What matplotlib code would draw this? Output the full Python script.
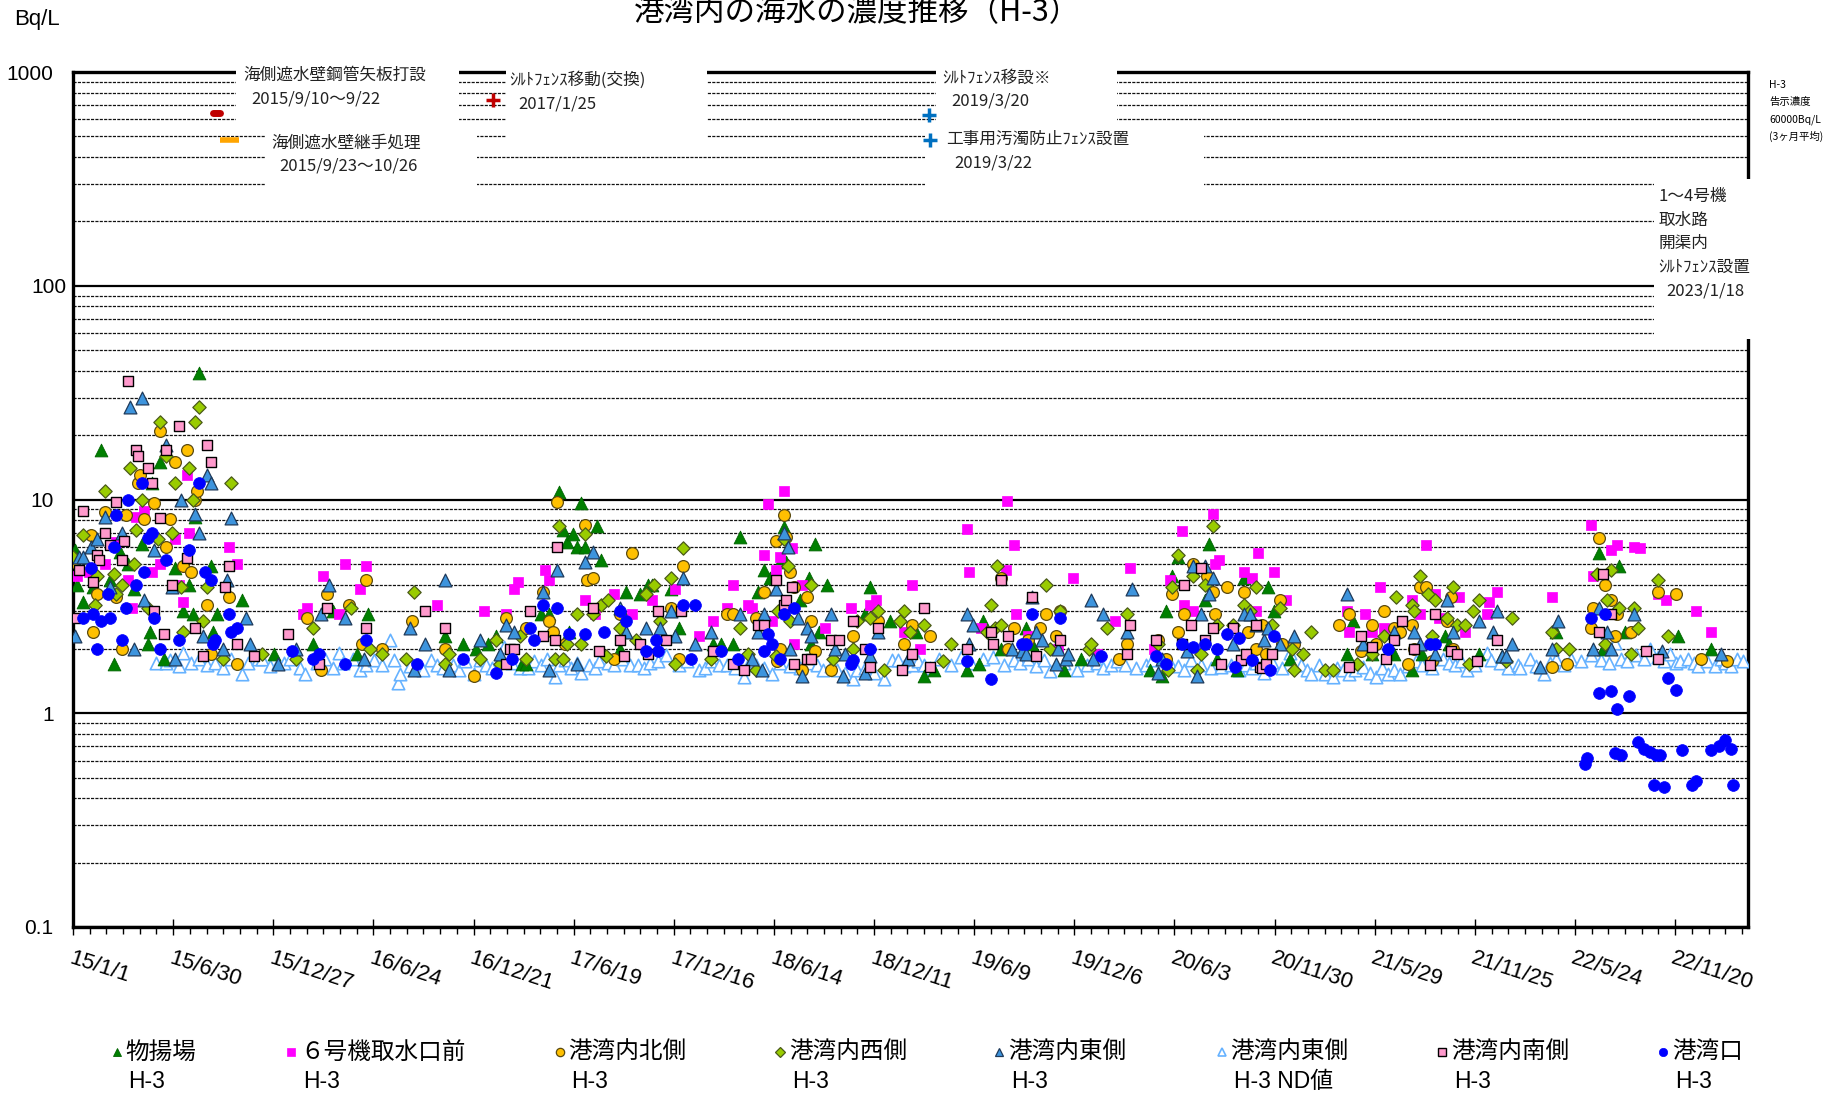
import numpy as np
import pandas as pd
import matplotlib
matplotlib.use("Agg")
from matplotlib import pyplot as plt
from matplotlib.lines import Line2D
from matplotlib.patches import Rectangle
from matplotlib.ticker import LogLocator, FixedLocator, NullFormatter
from matplotlib.transforms import ScaledTranslation
import matplotlib.dates as mdates

plt.rcParams['font.family'] = ['Liberation Sans', 'Noto Sans CJK JP', 'DejaVu Sans']

# values: (decimal year, Bq/L)
monoage = [(2015.01, 5.8), (2015.02, 4.0), (2015.05, 3.3), (2015.10, 3.9), (2015.14, 17), (2015.18, 4.2),
           (2015.20, 1.7), (2015.23, 5.7), (2015.27, 5.0), (2015.30, 3.8), (2015.34, 6.2), (2015.37, 2.1),
           (2015.38, 2.4), (2015.39, 12), (2015.43, 15), (2015.45, 1.8), (2015.50, 4.8), (2015.54, 3.0),
           (2015.57, 4.0), (2015.59, 2.9), (2015.60, 8.3), (2015.62, 39), (2015.68, 4.9), (2015.69, 2.4),
           (2015.71, 2.9), (2015.83, 3.4), (2015.99, 1.9), (2016.18, 2.1), (2016.28, 3.0), (2016.40, 1.9),
           (2016.45, 2.9), (2016.83, 2.3), (2016.92, 2.1), (2016.98, 2.0), (2017.04, 2.1), (2017.08, 2.3),
           (2017.21, 1.7), (2017.23, 1.7), (2017.30, 2.9), (2017.34, 2.9), (2017.39, 10.9), (2017.41, 7.2),
           (2017.43, 6.3), (2017.44, 2.4), (2017.46, 6.9), (2017.48, 6.0), (2017.50, 9.6), (2017.52, 6.0),
           (2017.58, 7.5), (2017.60, 5.2), (2017.69, 2.0), (2017.72, 3.7), (2017.79, 3.6), (2017.83, 4.0),
           (2017.85, 4.0), (2017.94, 3.8), (2017.98, 2.5), (2018.15, 2.1), (2018.19, 2.1), (2018.25, 2.1),
           (2018.28, 6.7), (2018.37, 3.7), (2018.40, 4.7), (2018.43, 4.3), (2018.49, 5.3), (2018.50, 7.4),
           (2018.51, 5.1), (2018.58, 3.4), (2018.62, 4.3), (2018.63, 2.1), (2018.65, 6.2), (2018.67, 2.4),
           (2018.71, 4.0), (2018.90, 2.9), (2018.92, 3.9), (2019.02, 2.7), (2019.15, 2.4), (2019.19, 1.5),
           (2019.24, 1.6), (2019.40, 1.6), (2019.46, 1.7), (2019.48, 2.7), (2019.57, 2.0), (2019.69, 2.5),
           (2019.72, 2.1), (2019.88, 1.6), (2019.96, 1.8), (2020.30, 1.6), (2020.36, 1.5), (2020.38, 3.0),
           (2020.41, 4.4), (2020.44, 5.4), (2020.57, 3.4), (2020.59, 6.2), (2020.63, 1.8), (2020.73, 1.6),
           (2020.76, 4.3), (2020.88, 3.9), (2020.91, 3.0), (2020.99, 1.8), (2021.27, 1.9), (2021.30, 2.7),
           (2021.39, 1.9), (2021.50, 1.9), (2021.59, 1.6), (2021.64, 1.9), (2021.75, 2.3), (2021.77, 2.1),
           (2021.92, 1.9), (2022.03, 1.85), (2022.30, 2.4), (2022.51, 5.6), (2022.53, 2.0), (2022.61, 4.9),
           (2022.64, 2.4), (2022.90, 2.3), (2023.06, 2.0)]

unit6 = [(2015.02, 4.4), (2015.08, 4.6), (2015.16, 5.0), (2015.21, 6.3), (2015.27, 4.2), (2015.29, 3.1),
         (2015.31, 8.3), (2015.35, 8.8), (2015.39, 4.6), (2015.43, 5.0), (2015.50, 6.5), (2015.52, 4.0),
         (2015.54, 3.3), (2015.56, 13), (2015.57, 7.0), (2015.77, 6.0), (2015.81, 5.0), (2016.13, 2.9),
         (2016.15, 3.1), (2016.23, 4.4), (2016.31, 2.9), (2016.34, 5.0), (2016.41, 3.8), (2016.44, 4.9),
         (2016.79, 3.2), (2017.02, 3.0), (2017.13, 2.9), (2017.17, 3.8), (2017.19, 4.1), (2017.32, 4.7),
         (2017.34, 4.2), (2017.52, 3.4), (2017.57, 2.9), (2017.66, 3.6), (2017.75, 2.9), (2017.85, 3.4),
         (2017.96, 3.8), (2018.08, 2.3), (2018.15, 2.7), (2018.22, 3.1), (2018.25, 4.0), (2018.32, 3.2),
         (2018.34, 3.1), (2018.40, 5.5), (2018.42, 9.5), (2018.44, 2.7), (2018.46, 4.7), (2018.48, 5.4),
         (2018.50, 11), (2018.54, 5.9), (2018.55, 2.1), (2018.59, 4.0), (2018.70, 2.5), (2018.83, 3.1),
         (2018.92, 3.2), (2018.95, 3.4), (2019.09, 2.4), (2019.13, 4.0), (2019.17, 2.0), (2019.40, 7.3),
         (2019.41, 4.6), (2019.47, 2.5), (2019.59, 4.7), (2019.595, 9.8), (2019.63, 6.1), (2019.64, 2.9),
         (2019.70, 2.3), (2019.85, 2.0), (2019.92, 4.3), (2020.04, 1.9), (2020.13, 2.7), (2020.20, 4.8),
         (2020.32, 2.0), (2020.40, 4.2), (2020.46, 7.1), (2020.47, 3.2), (2020.51, 3.0), (2020.61, 8.6),
         (2020.62, 5.0), (2020.64, 5.2), (2020.76, 4.6), (2020.80, 4.3), (2020.82, 3.0), (2020.83, 5.6),
         (2020.91, 4.6), (2020.97, 3.4), (2021.27, 3.0), (2021.28, 2.4), (2021.36, 2.9), (2021.39, 2.4),
         (2021.43, 3.9), (2021.45, 2.5), (2021.59, 3.4), (2021.63, 2.9), (2021.66, 6.1), (2021.70, 3.6),
         (2021.72, 2.8), (2021.82, 3.5), (2021.85, 2.4), (2021.96, 2.9), (2021.97, 3.3), (2022.01, 3.7),
         (2022.28, 3.5), (2022.47, 7.6), (2022.48, 4.4), (2022.57, 5.8), (2022.60, 6.1), (2022.68, 6.0),
         (2022.71, 5.9), (2022.80, 3.6), (2022.84, 3.4), (2022.99, 3.0), (2023.06, 2.4)]

north = [(2015.00, 5.1), (2015.09, 6.8), (2015.10, 2.4), (2015.12, 3.6), (2015.16, 8.7), (2015.21, 3.5),
         (2015.24, 2.0), (2015.26, 8.5), (2015.32, 12), (2015.33, 13), (2015.35, 8.1), (2015.40, 9.6),
         (2015.43, 21), (2015.46, 6.0), (2015.48, 8.1), (2015.50, 15), (2015.54, 4.9), (2015.56, 17),
         (2015.58, 4.6), (2015.60, 10), (2015.61, 11), (2015.66, 3.2), (2015.68, 1.9), (2015.77, 3.5),
         (2015.81, 1.7), (2016.15, 2.8), (2016.22, 1.6), (2016.25, 3.6), (2016.36, 3.2), (2016.42, 2.1),
         (2016.44, 4.2), (2016.52, 2.0), (2016.67, 2.7), (2016.83, 2.0), (2016.97, 1.5), (2017.13, 2.8),
         (2017.23, 2.5), (2017.31, 3.7), (2017.34, 2.7), (2017.36, 2.4), (2017.38, 9.7), (2017.42, 2.1),
         (2017.52, 7.6), (2017.53, 4.2), (2017.56, 4.3), (2017.66, 1.8), (2017.69, 2.9), (2017.75, 5.6),
         (2017.94, 3.1), (2017.98, 1.8), (2018.00, 4.9), (2018.22, 2.9), (2018.25, 2.9), (2018.36, 2.8),
         (2018.40, 3.7), (2018.46, 6.4), (2018.465, 1.75), (2018.48, 2.0), (2018.50, 8.5), (2018.51, 6.7),
         (2018.53, 4.6), (2018.55, 3.9), (2018.59, 1.6), (2018.61, 3.5), (2018.63, 2.7), (2018.65, 1.95),
         (2018.73, 1.6), (2018.84, 2.3), (2018.96, 2.7), (2019.09, 2.1), (2019.13, 2.6), (2019.22, 2.3),
         (2019.57, 4.3), (2019.60, 2.0), (2019.63, 2.5), (2019.70, 2.2), (2019.76, 2.5), (2019.79, 2.9),
         (2019.84, 2.3), (2019.86, 3.0), (2020.15, 1.8), (2020.19, 2.1), (2020.34, 2.2), (2020.38, 1.8),
         (2020.41, 3.6), (2020.44, 2.4), (2020.47, 2.9), (2020.51, 5.0), (2020.58, 4.4), (2020.61, 3.7),
         (2020.62, 2.9), (2020.68, 3.9), (2020.76, 3.7), (2020.78, 2.4), (2020.82, 2.0), (2020.85, 2.6),
         (2020.87, 1.9), (2020.94, 3.4), (2020.95, 2.1), (2021.01, 2.1), (2021.23, 2.6), (2021.28, 2.9),
         (2021.34, 1.95), (2021.39, 2.6), (2021.41, 2.1), (2021.45, 3.0), (2021.50, 2.5), (2021.53, 2.4),
         (2021.57, 1.7), (2021.59, 2.6), (2021.60, 2.0), (2021.63, 3.9), (2021.66, 3.9), (2021.69, 1.75),
         (2021.76, 2.7), (2021.78, 3.5), (2021.79, 2.0), (2022.28, 1.65), (2022.35, 1.7), (2022.47, 2.5),
         (2022.48, 3.1), (2022.51, 6.6), (2022.54, 4.0), (2022.57, 3.4), (2022.59, 2.3), (2022.60, 2.9),
         (2022.67, 2.4), (2022.80, 3.7), (2022.89, 3.6), (2023.01, 1.8), (2023.14, 1.75)]

west = [(2015.00, 5.4), (2015.05, 6.8), (2015.11, 3.2), (2015.12, 4.4), (2015.16, 11), (2015.20, 4.5),
        (2015.21, 3.6), (2015.24, 4.0), (2015.28, 14), (2015.30, 5.0), (2015.31, 7.2), (2015.34, 10),
        (2015.37, 3.1), (2015.42, 6.5), (2015.43, 23), (2015.46, 16), (2015.49, 7.0), (2015.50, 12),
        (2015.53, 3.9), (2015.54, 2.4), (2015.57, 14), (2015.59, 10), (2015.60, 23), (2015.62, 27),
        (2015.64, 2.7), (2015.66, 3.9), (2015.74, 1.8), (2015.78, 12), (2015.93, 1.9), (2016.10, 1.8),
        (2016.18, 2.5), (2016.37, 3.1), (2016.46, 2.0), (2016.52, 1.9), (2016.64, 1.8), (2016.68, 3.7),
        (2016.83, 1.7), (2016.85, 1.9), (2017.00, 1.8), (2017.08, 2.2), (2017.10, 1.7), (2017.20, 2.3),
        (2017.23, 1.8), (2017.37, 1.8), (2017.39, 7.5), (2017.41, 1.8), (2017.43, 2.1), (2017.48, 2.9),
        (2017.50, 2.1), (2017.52, 6.9), (2017.56, 2.9), (2017.60, 3.2), (2017.62, 1.85), (2017.63, 3.4),
        (2017.69, 2.5), (2017.77, 2.2), (2017.82, 3.6), (2017.86, 4.0), (2017.89, 2.7), (2017.94, 4.3),
        (2017.96, 1.7), (2018.00, 5.9), (2018.14, 1.8), (2018.28, 2.5), (2018.32, 1.9), (2018.36, 1.6),
        (2018.46, 1.85), (2018.47, 3.0), (2018.50, 6.5), (2018.52, 4.9), (2018.53, 2.7), (2018.63, 4.0),
        (2018.74, 1.8), (2018.84, 2.0), (2018.86, 2.7), (2018.92, 2.8), (2018.96, 3.0), (2018.99, 1.6),
        (2019.07, 2.7), (2019.09, 3.0), (2019.12, 2.4), (2019.19, 2.6), (2019.28, 1.75), (2019.32, 2.1),
        (2019.50, 2.4), (2019.52, 3.2), (2019.54, 2.5), (2019.55, 4.9), (2019.57, 2.6), (2019.79, 4.0),
        (2019.81, 2.0), (2019.86, 3.0), (2020.00, 2.0), (2020.01, 2.1), (2020.09, 2.5), (2020.19, 2.9),
        (2020.34, 2.1), (2020.39, 1.6), (2020.41, 3.9), (2020.44, 5.5), (2020.51, 4.4), (2020.53, 1.6),
        (2020.55, 1.9), (2020.57, 4.0), (2020.61, 7.5), (2020.63, 2.6), (2020.71, 2.6), (2020.76, 3.2),
        (2020.79, 3.0), (2020.82, 3.9), (2020.90, 2.6), (2020.94, 3.1), (2021.00, 2.0), (2021.01, 1.6),
        (2021.05, 1.9), (2021.09, 2.4), (2021.16, 1.6), (2021.20, 1.6), (2021.32, 1.7), (2021.39, 1.9),
        (2021.45, 2.3), (2021.51, 3.5), (2021.59, 3.2), (2021.60, 3.0), (2021.63, 4.4), (2021.67, 3.6),
        (2021.69, 2.3), (2021.70, 3.4), (2021.76, 2.8), (2021.79, 3.9), (2021.81, 2.6), (2021.85, 2.6),
        (2021.87, 1.7), (2021.89, 3.0), (2021.92, 3.4), (2022.05, 1.75), (2022.08, 2.8), (2022.28, 2.4),
        (2022.30, 2.0), (2022.36, 2.0), (2022.50, 4.5), (2022.54, 2.1), (2022.55, 3.4), (2022.57, 4.7),
        (2022.61, 3.1), (2022.67, 1.9), (2022.68, 3.1), (2022.70, 2.5), (2022.80, 4.2), (2022.85, 2.3)]

east = [(2015.01, 2.3), (2015.03, 5.4), (2015.05, 5.4), (2015.09, 6.0), (2015.12, 6.5), (2015.16, 8.3),
        (2015.18, 3.9), (2015.24, 7.0), (2015.28, 27), (2015.30, 2.0), (2015.34, 30), (2015.35, 3.4),
        (2015.40, 5.8), (2015.46, 18), (2015.49, 3.9), (2015.50, 1.8), (2015.53, 10), (2015.60, 8.6),
        (2015.62, 7.0), (2015.64, 2.3), (2015.66, 13), (2015.68, 12), (2015.74, 2.0), (2015.76, 4.2),
        (2015.78, 8.2), (2015.85, 2.8), (2015.87, 2.1), (2016.01, 1.7), (2016.10, 2.0), (2016.22, 2.9),
        (2016.26, 4.0), (2016.34, 2.8), (2016.43, 1.8), (2016.66, 2.5), (2016.68, 1.6), (2016.73, 2.1),
        (2016.83, 4.2), (2016.85, 1.6), (2017.00, 2.2), (2017.10, 1.9), (2017.13, 2.6), (2017.17, 2.4),
        (2017.31, 3.7), (2017.34, 1.6), (2017.38, 4.7), (2017.48, 1.7), (2017.52, 5.1), (2017.56, 5.7),
        (2017.69, 3.1), (2017.72, 2.4), (2017.82, 2.5), (2017.89, 2.5), (2017.94, 3.0), (2017.96, 2.3),
        (2018.00, 4.3), (2018.06, 2.1), (2018.14, 2.4), (2018.28, 2.9), (2018.34, 1.8), (2018.37, 2.4),
        (2018.39, 1.6), (2018.40, 2.9), (2018.46, 3.8), (2018.50, 7.0), (2018.52, 6.0), (2018.53, 2.0),
        (2018.57, 2.8), (2018.59, 1.5), (2018.61, 2.5), (2018.63, 2.3), (2018.73, 2.9), (2018.75, 2.0),
        (2018.79, 1.5), (2018.80, 1.9), (2018.90, 1.55), (2018.92, 1.85), (2018.96, 2.4), (2019.11, 1.8),
        (2019.40, 2.9), (2019.41, 2.1), (2019.43, 2.6), (2019.62, 2.0), (2019.67, 1.95), (2019.69, 1.9),
        (2019.72, 3.5), (2019.74, 2.4), (2019.77, 2.2), (2019.84, 1.7), (2019.85, 2.0), (2019.89, 1.8),
        (2019.90, 1.9), (2020.01, 3.4), (2020.02, 1.8), (2020.07, 2.9), (2020.19, 2.4), (2020.21, 3.8),
        (2020.34, 1.55), (2020.36, 1.8), (2020.48, 1.95), (2020.51, 4.9), (2020.53, 1.5), (2020.55, 2.9),
        (2020.57, 4.9), (2020.59, 3.6), (2020.61, 4.3), (2020.71, 2.1), (2020.76, 2.9), (2020.79, 2.9),
        (2020.82, 2.6), (2020.86, 2.2), (2020.88, 2.5), (2020.94, 2.1), (2021.01, 2.3), (2021.27, 3.6),
        (2021.35, 2.1), (2021.50, 2.4), (2021.60, 2.4), (2021.63, 2.1), (2021.70, 1.9), (2021.76, 3.4),
        (2021.79, 2.4), (2021.92, 2.7), (2021.99, 2.4), (2022.01, 3.0), (2022.03, 1.85), (2022.05, 1.85),
        (2022.08, 2.1), (2022.22, 1.65), (2022.28, 2.0), (2022.31, 2.7), (2022.48, 2.0), (2022.51, 3.1),
        (2022.55, 2.4), (2022.57, 2.0), (2022.68, 2.9), (2022.82, 1.95), (2023.11, 1.9)]

east_nd = [(2015.41, 1.71), (2015.46, 1.71), (2015.48, 1.78), (2015.52, 1.66), (2015.54, 1.92), (2015.58, 1.71),
           (2015.62, 1.8), (2015.66, 1.69), (2015.70, 1.71), (2015.74, 1.62), (2015.78, 1.8), (2015.83, 1.53),
           (2015.86, 1.71), (2015.91, 1.8), (2015.93, 1.8), (2015.97, 1.66), (2016.01, 1.71), (2016.04, 1.71),
           (2016.07, 1.8), (2016.12, 1.62), (2016.14, 1.53), (2016.20, 1.71), (2016.24, 1.8), (2016.28, 1.62),
           (2016.31, 1.92), (2016.33, 1.71), (2016.38, 1.8), (2016.41, 1.59), (2016.44, 1.69), (2016.48, 1.78),
           (2016.52, 1.69), (2016.56, 2.2), (2016.58, 1.78), (2016.60, 1.38), (2016.61, 1.52), (2016.66, 1.66),
           (2016.72, 1.59), (2016.76, 1.78), (2016.79, 1.69), (2016.82, 1.62), (2016.87, 1.69), (2016.90, 1.59),
           (2016.93, 1.76), (2016.97, 1.52), (2017.00, 1.78), (2017.03, 1.69), (2017.06, 1.62), (2017.10, 1.8),
           (2017.12, 2.05), (2017.16, 1.71), (2017.20, 1.62), (2017.24, 1.62), (2017.27, 1.76), (2017.30, 1.69),
           (2017.33, 1.8), (2017.37, 1.47), (2017.39, 1.69), (2017.42, 1.78), (2017.45, 1.62), (2017.48, 1.71),
           (2017.50, 1.55), (2017.54, 1.69), (2017.57, 1.62), (2017.59, 1.76), (2017.63, 1.71), (2017.66, 1.69),
           (2017.70, 1.8), (2017.74, 1.69), (2017.78, 1.69), (2017.81, 1.62), (2017.84, 1.71), (2017.88, 1.76),
           (2017.92, 1.87), (2017.98, 1.69), (2018.02, 1.76), (2018.08, 1.59), (2018.11, 1.62), (2018.14, 1.76),
           (2018.18, 1.69), (2018.22, 1.69), (2018.26, 1.62), (2018.30, 1.47), (2018.33, 1.76), (2018.36, 1.69),
           (2018.40, 1.62), (2018.44, 1.53), (2018.48, 1.71), (2018.53, 1.66), (2018.58, 1.62), (2018.62, 1.71),
           (2018.66, 1.69), (2018.69, 1.59), (2018.73, 1.66), (2018.76, 1.59), (2018.80, 1.55), (2018.84, 1.45),
           (2018.86, 1.59), (2018.90, 1.62), (2018.94, 1.55), (2018.99, 1.45), (2019.03, 1.78), (2019.06, 1.78),
           (2019.09, 1.66), (2019.13, 1.69), (2019.16, 1.76), (2019.19, 1.69), (2019.22, 1.62), (2019.26, 1.8),
           (2019.32, 1.69), (2019.37, 1.83), (2019.42, 1.71), (2019.48, 1.8), (2019.53, 1.83), (2019.58, 1.69),
           (2019.63, 1.78), (2019.66, 1.71), (2019.70, 1.8), (2019.74, 1.66), (2019.78, 1.78), (2019.81, 1.57),
           (2019.88, 1.71), (2019.94, 1.59), (2019.99, 1.69), (2020.04, 1.71), (2020.07, 1.62), (2020.11, 1.69),
           (2020.14, 1.76), (2020.18, 1.69), (2020.23, 1.62), (2020.28, 1.69), (2020.31, 1.78), (2020.36, 1.62),
           (2020.40, 1.71), (2020.44, 1.66), (2020.47, 1.59), (2020.50, 1.78), (2020.55, 1.69), (2020.60, 1.62),
           (2020.65, 1.64), (2020.70, 1.69), (2020.74, 1.59), (2020.77, 1.69), (2020.80, 1.62), (2020.82, 1.71),
           (2020.86, 1.55), (2020.90, 1.73), (2020.95, 1.62), (2020.99, 1.92), (2021.04, 1.69), (2021.07, 1.59),
           (2021.09, 1.53), (2021.13, 1.69), (2021.16, 1.53), (2021.20, 1.48), (2021.22, 1.62), (2021.25, 1.59),
           (2021.28, 1.52), (2021.31, 1.59), (2021.35, 1.64), (2021.38, 1.55), (2021.41, 1.47), (2021.44, 1.62),
           (2021.47, 1.52), (2021.50, 1.59), (2021.53, 1.53), (2021.57, 1.66), (2021.61, 1.76), (2021.64, 1.69),
           (2021.69, 1.62), (2021.74, 1.8), (2021.77, 1.71), (2021.80, 1.69), (2021.83, 1.76), (2021.86, 1.59),
           (2021.90, 1.69), (2021.96, 1.92), (2021.98, 1.78), (2022.02, 1.71), (2022.06, 1.62), (2022.11, 1.69),
           (2022.12, 1.62), (2022.17, 1.8), (2022.20, 1.66), (2022.24, 1.52), (2022.27, 1.71), (2022.30, 1.8),
           (2022.34, 1.69), (2022.37, 1.8), (2022.42, 1.76), (2022.47, 1.87), (2022.52, 1.78), (2022.56, 1.71),
           (2022.59, 2.12), (2022.62, 1.8), (2022.65, 1.76), (2022.69, 1.87), (2022.73, 1.8), (2022.76, 2.0),
           (2022.80, 1.83), (2022.83, 1.76), (2022.86, 1.9), (2022.89, 1.71), (2022.91, 1.76), (2022.95, 1.8),
           (2022.98, 1.71), (2023.00, 1.67), (2023.04, 1.76), (2023.08, 1.66), (2023.11, 1.8), (2023.13, 1.71),
           (2023.16, 1.66), (2023.19, 1.8), (2023.22, 1.76)]

south = [(2015.01, 2.8), (2015.03, 4.7), (2015.05, 8.8), (2015.10, 4.1), (2015.12, 5.5), (2015.13, 5.2),
         (2015.16, 7.0), (2015.18, 6.1), (2015.21, 9.7), (2015.24, 5.2), (2015.25, 6.4), (2015.27, 36),
         (2015.31, 17), (2015.32, 16), (2015.37, 14), (2015.39, 12), (2015.40, 3.0), (2015.43, 8.2),
         (2015.45, 2.35), (2015.46, 17), (2015.49, 4.0), (2015.52, 22), (2015.56, 5.3), (2015.60, 2.5),
         (2015.64, 1.85), (2015.66, 18), (2015.68, 15), (2015.75, 3.9), (2015.77, 4.9), (2015.81, 2.1),
         (2015.89, 1.85), (2016.06, 2.35), (2016.21, 1.7), (2016.25, 3.1), (2016.44, 2.5), (2016.73, 3.0),
         (2016.83, 2.5), (2017.13, 1.7), (2017.15, 2.0), (2017.17, 2.0), (2017.25, 3.0), (2017.31, 2.3),
         (2017.37, 2.2), (2017.38, 6.0), (2017.56, 3.1), (2017.59, 1.95), (2017.69, 2.2), (2017.71, 1.85),
         (2017.79, 2.1), (2017.83, 1.9), (2017.88, 3.0), (2017.92, 2.2), (2017.99, 3.0), (2018.15, 1.95),
         (2018.25, 1.7), (2018.30, 1.6), (2018.37, 2.6), (2018.40, 2.6), (2018.46, 4.2), (2018.50, 3.2),
         (2018.51, 3.4), (2018.54, 3.9), (2018.55, 1.7), (2018.61, 1.8), (2018.63, 1.8), (2018.73, 2.2),
         (2018.77, 2.2), (2018.84, 2.7), (2018.90, 2.0), (2018.92, 1.65), (2018.96, 2.5), (2019.08, 1.6),
         (2019.13, 1.9), (2019.19, 3.1), (2019.22, 1.65), (2019.40, 2.0), (2019.52, 2.4), (2019.53, 2.1),
         (2019.57, 4.2), (2019.60, 2.3), (2019.72, 3.5), (2019.74, 1.85), (2019.86, 2.2), (2020.19, 1.9),
         (2020.20, 2.6), (2020.33, 2.2), (2020.46, 2.1), (2020.47, 4.0), (2020.50, 2.6), (2020.55, 4.8),
         (2020.57, 2.2), (2020.61, 2.5), (2020.65, 1.7), (2020.71, 2.5), (2020.75, 1.78), (2020.77, 1.9),
         (2020.82, 2.6), (2020.84, 1.65), (2020.85, 1.62), (2020.87, 1.7), (2020.90, 1.9), (2021.28, 1.65),
         (2021.34, 2.3), (2021.39, 2.05), (2021.46, 1.8), (2021.50, 2.2), (2021.54, 2.7), (2021.60, 2.0),
         (2021.68, 1.68), (2021.70, 2.9), (2021.78, 1.95), (2021.81, 1.9), (2021.91, 1.76), (2022.01, 2.2),
         (2022.51, 2.4), (2022.53, 4.5), (2022.57, 2.9), (2022.74, 1.95), (2022.80, 1.8)]

mouth = [(2015.05, 2.8), (2015.09, 4.8), (2015.10, 2.9), (2015.12, 2.0), (2015.14, 2.7), (2015.17, 3.6),
         (2015.18, 2.8), (2015.20, 6.0), (2015.21, 8.5), (2015.24, 2.2), (2015.26, 3.1), (2015.27, 10),
         (2015.31, 4.0), (2015.34, 12), (2015.35, 4.6), (2015.37, 6.6), (2015.39, 7.0), (2015.40, 2.8),
         (2015.43, 2.0), (2015.46, 5.2), (2015.52, 2.2), (2015.57, 5.8), (2015.62, 12), (2015.65, 4.6),
         (2015.68, 4.2), (2015.69, 2.1), (2015.70, 2.2), (2015.77, 2.9), (2015.78, 2.4), (2015.81, 2.5),
         (2016.08, 1.95), (2016.18, 1.8), (2016.21, 1.9), (2016.34, 1.7), (2016.44, 2.2), (2016.69, 1.7),
         (2016.92, 1.8), (2017.08, 1.55), (2017.16, 1.8), (2017.25, 2.5), (2017.27, 2.2), (2017.31, 3.2),
         (2017.38, 3.1), (2017.44, 2.35), (2017.52, 2.35), (2017.61, 2.4), (2017.69, 3.0), (2017.72, 2.7),
         (2017.82, 1.95), (2017.87, 2.2), (2017.88, 1.95), (2018.00, 3.2), (2018.04, 1.8), (2018.06, 3.2),
         (2018.19, 1.95), (2018.27, 1.8), (2018.40, 1.95), (2018.42, 2.35), (2018.44, 2.1), (2018.48, 1.8),
         (2018.50, 2.9), (2018.55, 3.1), (2018.83, 1.7), (2018.84, 1.78), (2018.92, 2.0), (2019.40, 1.75),
         (2019.52, 1.45), (2019.67, 2.1), (2019.69, 2.1), (2019.72, 2.9), (2019.86, 2.8), (2020.06, 1.85),
         (2020.33, 1.85), (2020.38, 1.7), (2020.46, 2.1), (2020.51, 2.05), (2020.57, 2.1), (2020.63, 2.0),
         (2020.68, 2.35), (2020.72, 1.65), (2020.74, 2.25), (2020.80, 1.78), (2020.89, 1.6), (2020.91, 2.3),
         (2021.47, 2.0), (2021.68, 2.1), (2021.70, 2.1), (2022.44, 0.58), (2022.45, 0.62), (2022.47, 2.8),
         (2022.51, 1.25), (2022.54, 2.9), (2022.57, 1.27), (2022.59, 0.65), (2022.60, 1.05), (2022.62, 0.64),
         (2022.66, 1.2), (2022.70, 0.73), (2022.73, 0.68), (2022.76, 0.66), (2022.78, 0.46), (2022.79, 0.64),
         (2022.81, 0.64), (2022.83, 0.45), (2022.85, 1.46), (2022.89, 1.28), (2022.92, 0.67), (2022.97, 0.46),
         (2022.99, 0.48), (2023.06, 0.67), (2023.10, 0.70), (2023.13, 0.75), (2023.16, 0.68), (2023.17, 0.46)]

# construction events
sheet_pile = ('2015-09-10', '2015-09-22', 640)
joint_work = ('2015-09-23', '2015-10-26', 480)
fence_move = ('2017-01-25', 740)
fence_relocate = ('2019-03-20', 630)
turbidity_fence = ('2019-03-22', 480)

xtick_dates = pd.date_range('2015-01-01', periods=17, freq='180D')
xminor_dates = pd.date_range('2015-01-01', '2023-03-31', freq='30D')
ytick_vals = [0.1, 1, 10, 100, 1000]
ytick_labels = ['0.1', '1', '10', '100', '1000']

legend_names = ['物揚場', '６号機取水口前', '港湾内北側', '港湾内西側',
                '港湾内東側', '港湾内東側', '港湾内南側', '港湾口']
legend_sub = ['H-3', 'H-3', 'H-3', 'H-3', 'H-3', 'H-3 ND値', 'H-3', 'H-3']


def to_dates(pairs):
    out = []
    for t, _ in pairs:
        y = int(np.floor(t))
        start = pd.Timestamp(year=y, month=1, day=1)
        ndays = (pd.Timestamp(year=y + 1, month=1, day=1) - start).days
        out.append(start + pd.Timedelta(days=(t - y) * ndays))
    return out


def vals(pairs):
    return [v for _, v in pairs]


W, H = 1847, 1094
fig = plt.figure(figsize=(W / 100, H / 100), dpi=100)
ax = fig.add_axes([73 / W, 1 - 927 / H, (1748 - 73) / W, (927 - 72) / H])

# (data, marker, size, face, edge, lw)
styles = [
    (east_nd, '^', 80, 'white', '#66B2FF', 1.2),
    (monoage, '^', 85, '#008000', '#006400', 0.6),
    (unit6, 's', 52, '#FF00FF', '#FF00FF', 0.5),
    (north, 'o', 72, '#FFC000', '#5A4A10', 0.9),
    (west, 'D', 46, '#99CC00', '#4A5A1A', 0.9),
    (east, '^', 85, '#3D94DD', '#1F3A5A', 0.9),
    (south, 's', 52, '#FF99CC', '#000000', 1.0),
    (mouth, 'o', 72, '#0000FF', '#0000FF', 0.5),
]
for data, mk, s, fc, ec, lw in styles:
    ax.scatter(to_dates(data), vals(data), marker=mk, s=s, c=fc, edgecolors=ec,
               linewidths=lw, zorder=3)

ax.set_yscale('log')
ax.set_ylim(0.1, 1000)
ax.set_xlim(pd.Timestamp('2015-01-01'), pd.Timestamp('2023-03-31'))

ax.set_yticks(ytick_vals)
ax.set_yticklabels(ytick_labels, fontsize=15)
ax.yaxis.set_minor_locator(LogLocator(base=10, subs=range(2, 10)))
ax.yaxis.set_minor_formatter(NullFormatter())
ax.tick_params(axis='y', which='both', length=0, pad=14)
# the "100" label sits a little further right in the original
ylab = ax.get_yticklabels()[3]
ylab.set_transform(ylab.get_transform() + ScaledTranslation(13 / 100, 0, fig.dpi_scale_trans))

ax.set_xticks(list(xtick_dates))
ax.set_xticklabels([f"{d.year % 100}/{d.month}/{d.day}" for d in xtick_dates],
                   fontsize=16, rotation=-18, ha='left', rotation_mode='anchor')
ax.xaxis.set_minor_locator(FixedLocator(mdates.date2num(list(xminor_dates))))
ax.tick_params(axis='x', which='major', direction='inout', length=12, width=1, pad=9)
ax.tick_params(axis='x', which='minor', direction='out', length=5, width=1)

ax.grid(True, which='major', axis='y', color='black', lw=1.6)
ax.grid(True, which='minor', axis='y', color='#111111', lw=0.9, ls=(0, (2.5, 1.0)))
for sp in ax.spines.values():
    sp.set_linewidth(2.4)
    sp.set_color('black')


def apos(x, y):
    # position measured on the 1568px-wide view -> axes fraction
    return (x - 62) / 1422, (787 - y) / 726


# white boxes behind the annotations
for x0, y0, x1, y1 in [(200, 54, 390, 106), (225, 106, 405, 162), (430, 54, 600, 126),
                       (795, 54, 948, 107), (785, 107, 1022, 162), (1404, 152, 1493, 288)]:
    a0, b1 = apos(x0, y0)
    a1, b0 = apos(x1, y1)
    ax.add_patch(Rectangle((a0, b0), a1 - a0, b1 - b0, transform=ax.transAxes,
                           facecolor='white', edgecolor='none', clip_on=False, zorder=2.6))

ax.plot([pd.Timestamp(sheet_pile[0]), pd.Timestamp(sheet_pile[1])], [sheet_pile[2]] * 2,
        color='#C00000', lw=5, solid_capstyle='round', zorder=5)
ax.plot([pd.Timestamp(joint_work[0]), pd.Timestamp(joint_work[1])], [joint_work[2]] * 2,
        color='#FFA500', lw=4, solid_capstyle='butt', zorder=5)
ax.plot([pd.Timestamp(fence_move[0])], [fence_move[1]], '+', color='#C00000',
        ms=10, mew=2.5, zorder=5)
for ev in (fence_relocate, turbidity_fence):
    ax.plot([pd.Timestamp(ev[0])], [ev[1]], '+', color='#0070C0', ms=10, mew=2.5, zorder=5)

notes = [
    (207, 64, '海側遮水壁鋼管矢板打設'), (213, 84, '2015/9/10～9/22'),
    (230, 121, '海側遮水壁継手処理'), (237, 141, '2015/9/23～10/26'),
    (432, 68, 'ｼﾙﾄﾌｪﾝｽ移動(交換)'), (440, 88, '2017/1/25'),
    (800, 66, 'ｼﾙﾄﾌｪﾝｽ移設※'), (808, 86, '2019/3/20'),
    (803, 118, '工事用汚濁防止ﾌｪﾝｽ設置'), (810, 138, '2019/3/22'),
    (1408, 167, '1～4号機'), (1408, 187, '取水路'), (1408, 207, '開渠内'),
    (1408, 227, 'ｼﾙﾄﾌｪﾝｽ設置'), (1415, 247, '2023/1/18'),
]
for x, y, s in notes:
    a, b = apos(x, y)
    ax.text(a, b, s, transform=ax.transAxes, fontsize=12, va='center', ha='left',
            family=['Noto Sans CJK JP', 'DejaVu Sans'], color='#222222', zorder=6, clip_on=False)

for i, s in enumerate(['H-3', '告示濃度', '60000Bq/L', '(3ヶ月平均)']):
    a, b = apos(1502, 72 + i * 14.7)
    ax.text(a, b, s, transform=ax.transAxes, fontsize=7.5, va='center', ha='left',
            family=['Noto Sans CJK JP', 'DejaVu Sans'], zorder=6, clip_on=False)

fig.text(857 / W, 1 - 13 / H, '港湾内の海水の濃度推移（H-3）', fontsize=22, ha='center', va='center',
         family=['Noto Sans CJK JP', 'DejaVu Sans'])
fig.text(14 / W, 1 - 19 / H, 'Bq/L', fontsize=16, ha='left', va='center')

# legend, laid out like the original (marker + two text lines)
leg_x = [99, 247, 475, 662, 848, 1037, 1224, 1412]
leg_styles = [styles[1], styles[2], styles[3], styles[4], styles[5], styles[0], styles[6], styles[7]]
for (data, mk, s, fc, ec, lw), xm, name, sub in zip(leg_styles, leg_x, legend_names, legend_sub):
    fx = xm * 1.178 / W
    fig.add_artist(Line2D([fx], [1 - 893 * 1.178 / H], marker=mk, ms=6 if mk != 'D' else 5,
                          markerfacecolor=fc, markeredgecolor=ec, mew=lw, ls='none',
                          transform=fig.transFigure))
    fig.text(fx + 9 / W, 1 - 893 * 1.178 / H, name, fontsize=17, ha='left', va='center',
             family=['Noto Sans CJK JP', 'DejaVu Sans'])
    fig.text(fx + 12 / W, 1 - 918 * 1.178 / H, sub, fontsize=16.5, ha='left', va='center',
             family=['Liberation Sans', 'Noto Sans CJK JP'])

fig.savefig('out.png', dpi=100)
